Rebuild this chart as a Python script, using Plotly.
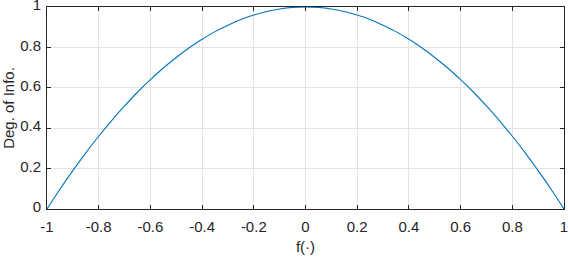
import plotly.graph_objects as go

x_vals = [-1.0, -0.95, -0.9, -0.85, -0.8, -0.75, -0.7, -0.65, -0.6, -0.55, -0.5,
          -0.45, -0.4, -0.35, -0.3, -0.25, -0.2, -0.15, -0.1, -0.05, 0.0,
          0.05, 0.1, 0.15, 0.2, 0.25, 0.3, 0.35, 0.4, 0.45, 0.5,
          0.55, 0.6, 0.65, 0.7, 0.75, 0.8, 0.85, 0.9, 0.95, 1.0]
y_vals = [0.0, 0.098, 0.19, 0.278, 0.36, 0.438, 0.51, 0.578, 0.64, 0.698, 0.75,
          0.798, 0.84, 0.878, 0.91, 0.938, 0.96, 0.978, 0.99, 0.998, 1.0,
          0.998, 0.99, 0.978, 0.96, 0.938, 0.91, 0.878, 0.84, 0.798, 0.75,
          0.698, 0.64, 0.578, 0.51, 0.438, 0.36, 0.278, 0.19, 0.098, 0.0]
x_ticks = [-1, -0.8, -0.6, -0.4, -0.2, 0, 0.2, 0.4, 0.6, 0.8, 1]
x_tick_text = ["-1", "-0.8", "-0.6", "-0.4", "-0.2", "0", "0.2", "0.4", "0.6", "0.8", "1"]
y_ticks = [0, 0.2, 0.4, 0.6, 0.8, 1]
y_tick_text = ["0", "0.2", "0.4", "0.6", "0.8", "1"]

FONT = "Liberation Sans, Arial"
fig = go.Figure(go.Scatter(x=x_vals, y=y_vals, mode="lines",
                           line=dict(color="#0072BD", width=1.1, shape="spline")))

axis_common = dict(showline=True, linecolor="#262626", linewidth=1, mirror="ticks",
                   ticks="inside", ticklen=4, tickcolor="#262626",
                   showgrid=True, gridcolor="#E3E3E3", gridwidth=1, zeroline=False,
                   automargin=False, ticklabeloverflow="allow",
                   tickfont=dict(family=FONT, size=15, color="#262626"))

fig.update_xaxes(range=[-1, 1], tickvals=x_ticks, ticktext=x_tick_text,
                 ticklabelstandoff=4,
                 title=dict(text="f(·)", standoff=7,
                            font=dict(family=FONT, size=15, color="#262626")),
                 **axis_common)
fig.update_yaxes(range=[0, 1], tickvals=y_ticks, ticktext=y_tick_text,
                 ticklabelstandoff=2, ticklabelshift=-2,
                 title=dict(text="Deg. of Info.", standoff=4,
                            font=dict(family=FONT, size=15, color="#262626")),
                 **axis_common)

fig.update_layout(width=568, height=258, margin=dict(l=47, r=4, t=7, b=49),
                  plot_bgcolor="white", paper_bgcolor="white", showlegend=False)

fig.write_html("out.html", config={"displayModeBar": False},
               post_script="document.body.style.margin='0';document.body.style.overflow='hidden';")
